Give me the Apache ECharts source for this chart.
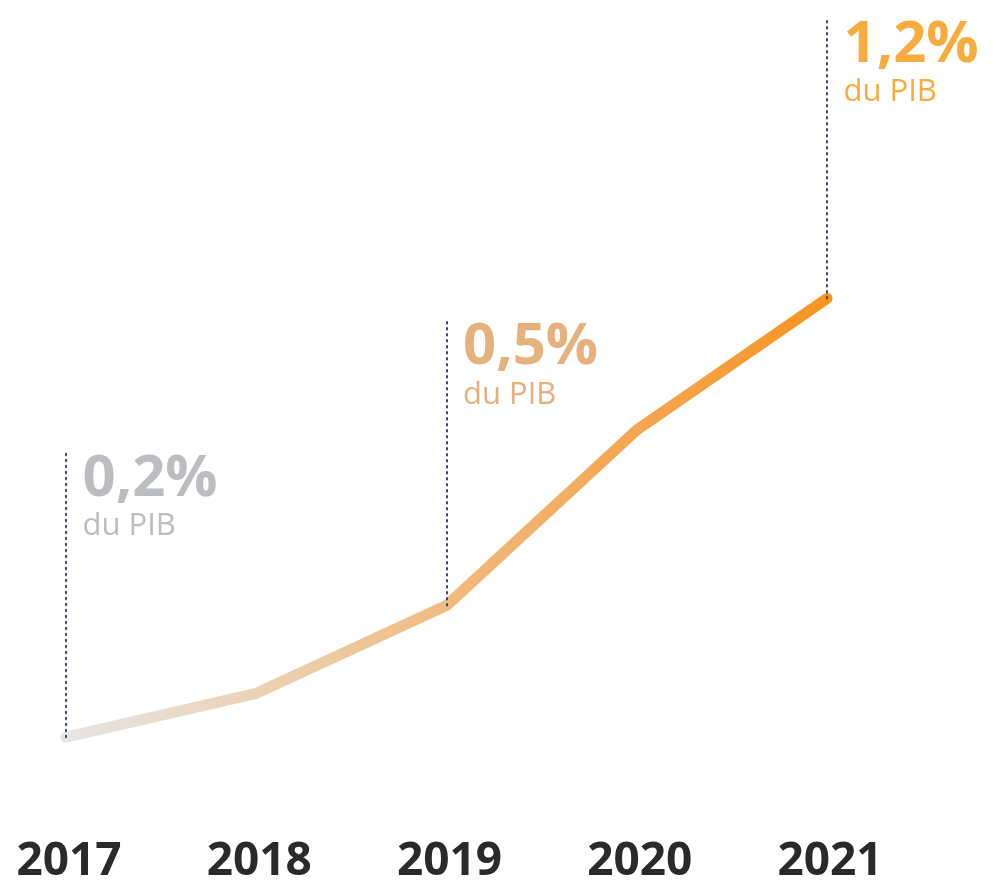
<html>
  <head>
    <meta charset="utf-8">
    <script src="https://cdnjs.cloudflare.com/ajax/libs/echarts/6.0.0/echarts.min.js"></script>
    <style>
      body { margin: 0; background-color: #fff; }
      #chart { width: 997px; height: 888px; }
    </style>
  </head>
  <body>
    <div id="chart"></div>
  </body>
  <script>
    // data
    var years = ['2017', '2018', '2019', '2020', '2021'];
    var shares = [0.2, 0.3, 0.5, 0.9, 1.2];
    // annotated years, their label and how high the dotted line goes
    var noteYears = ['2017', '2019', '2021'];
    var noteValues = [0.2, 0.5, 1.2];
    var noteTexts = ['0,2%', '0,5%', '1,2%'];
    var noteTops = [0.85, 1.15, 1.84];
    var noteColors = ['#bcbdc1', '#e5b17d', '#f9ac3e'];

    var dom = document.getElementById('chart');
    var chart = echarts.init(dom);

    var lines = [];
    var points = [];
    for (let i in noteYears) {
        lines.push([{ coord: [noteYears[i], noteValues[i]] }, { coord: [noteYears[i], noteTops[i]] }]);
        points.push({
            coord: [noteYears[i], noteTops[i]],
            label: {
                formatter: `{a|${noteTexts[i]}}\n{b|du PIB}`,
                rich: {
                    a: { fontFamily: 'Open Sans', fontWeight: 'bold', fontSize: 58, lineHeight: 52, color: noteColors[i] },
                    b: { fontFamily: 'Open Sans', fontSize: 31, lineHeight: 42, color: noteColors[i] }
                }
            }
        });
    }

    var opt = {
        animation: false,
        grid: { left: 66, right: 170, top: 0, bottom: 63 },
        xAxis: {
            type: 'category', data: years, boundaryGap: false,
            axisLine: { show: false }, axisTick: { show: false },
            axisLabel: {
                margin: 14, fontFamily: 'Open Sans', fontWeight: 'bold', fontSize: 46,
                color: '#2a2a2a', padding: [0, 0, 0, 6]
            }
        },
        yAxis: { type: 'value', min: 0, max: 1.88, show: false, splitLine: { show: false } },
        series: [{
            type: 'line',
            data: shares,
            showSymbol: false,
            clip: false,
            lineStyle: {
                width: 11, cap: 'round', join: 'round',
                color: new echarts.graphic.LinearGradient(0, 0, 1, 0, [
                    { offset: 0, color: '#e6e5e6' },
                    { offset: 0.25, color: '#ebd3b5' },
                    { offset: 0.5, color: '#f0bb80' },
                    { offset: 0.75, color: '#f5a550' },
                    { offset: 1, color: '#f7941d' }
                ])
            },
            markLine: {
                silent: true, symbol: 'none', label: { show: false },
                lineStyle: { color: '#3c4a6c', width: 2, type: [1.5, 4.5], cap: 'round' },
                data: lines
            },
            markPoint: {
                silent: true, symbol: 'circle', symbolSize: 1,
                itemStyle: { color: 'rgba(0,0,0,0)' },
                label: { show: true, position: [17, 2], align: 'left', verticalAlign: 'top' },
                data: points
            }
        }]
    };
    chart.setOption(opt);
  </script>
</html>
